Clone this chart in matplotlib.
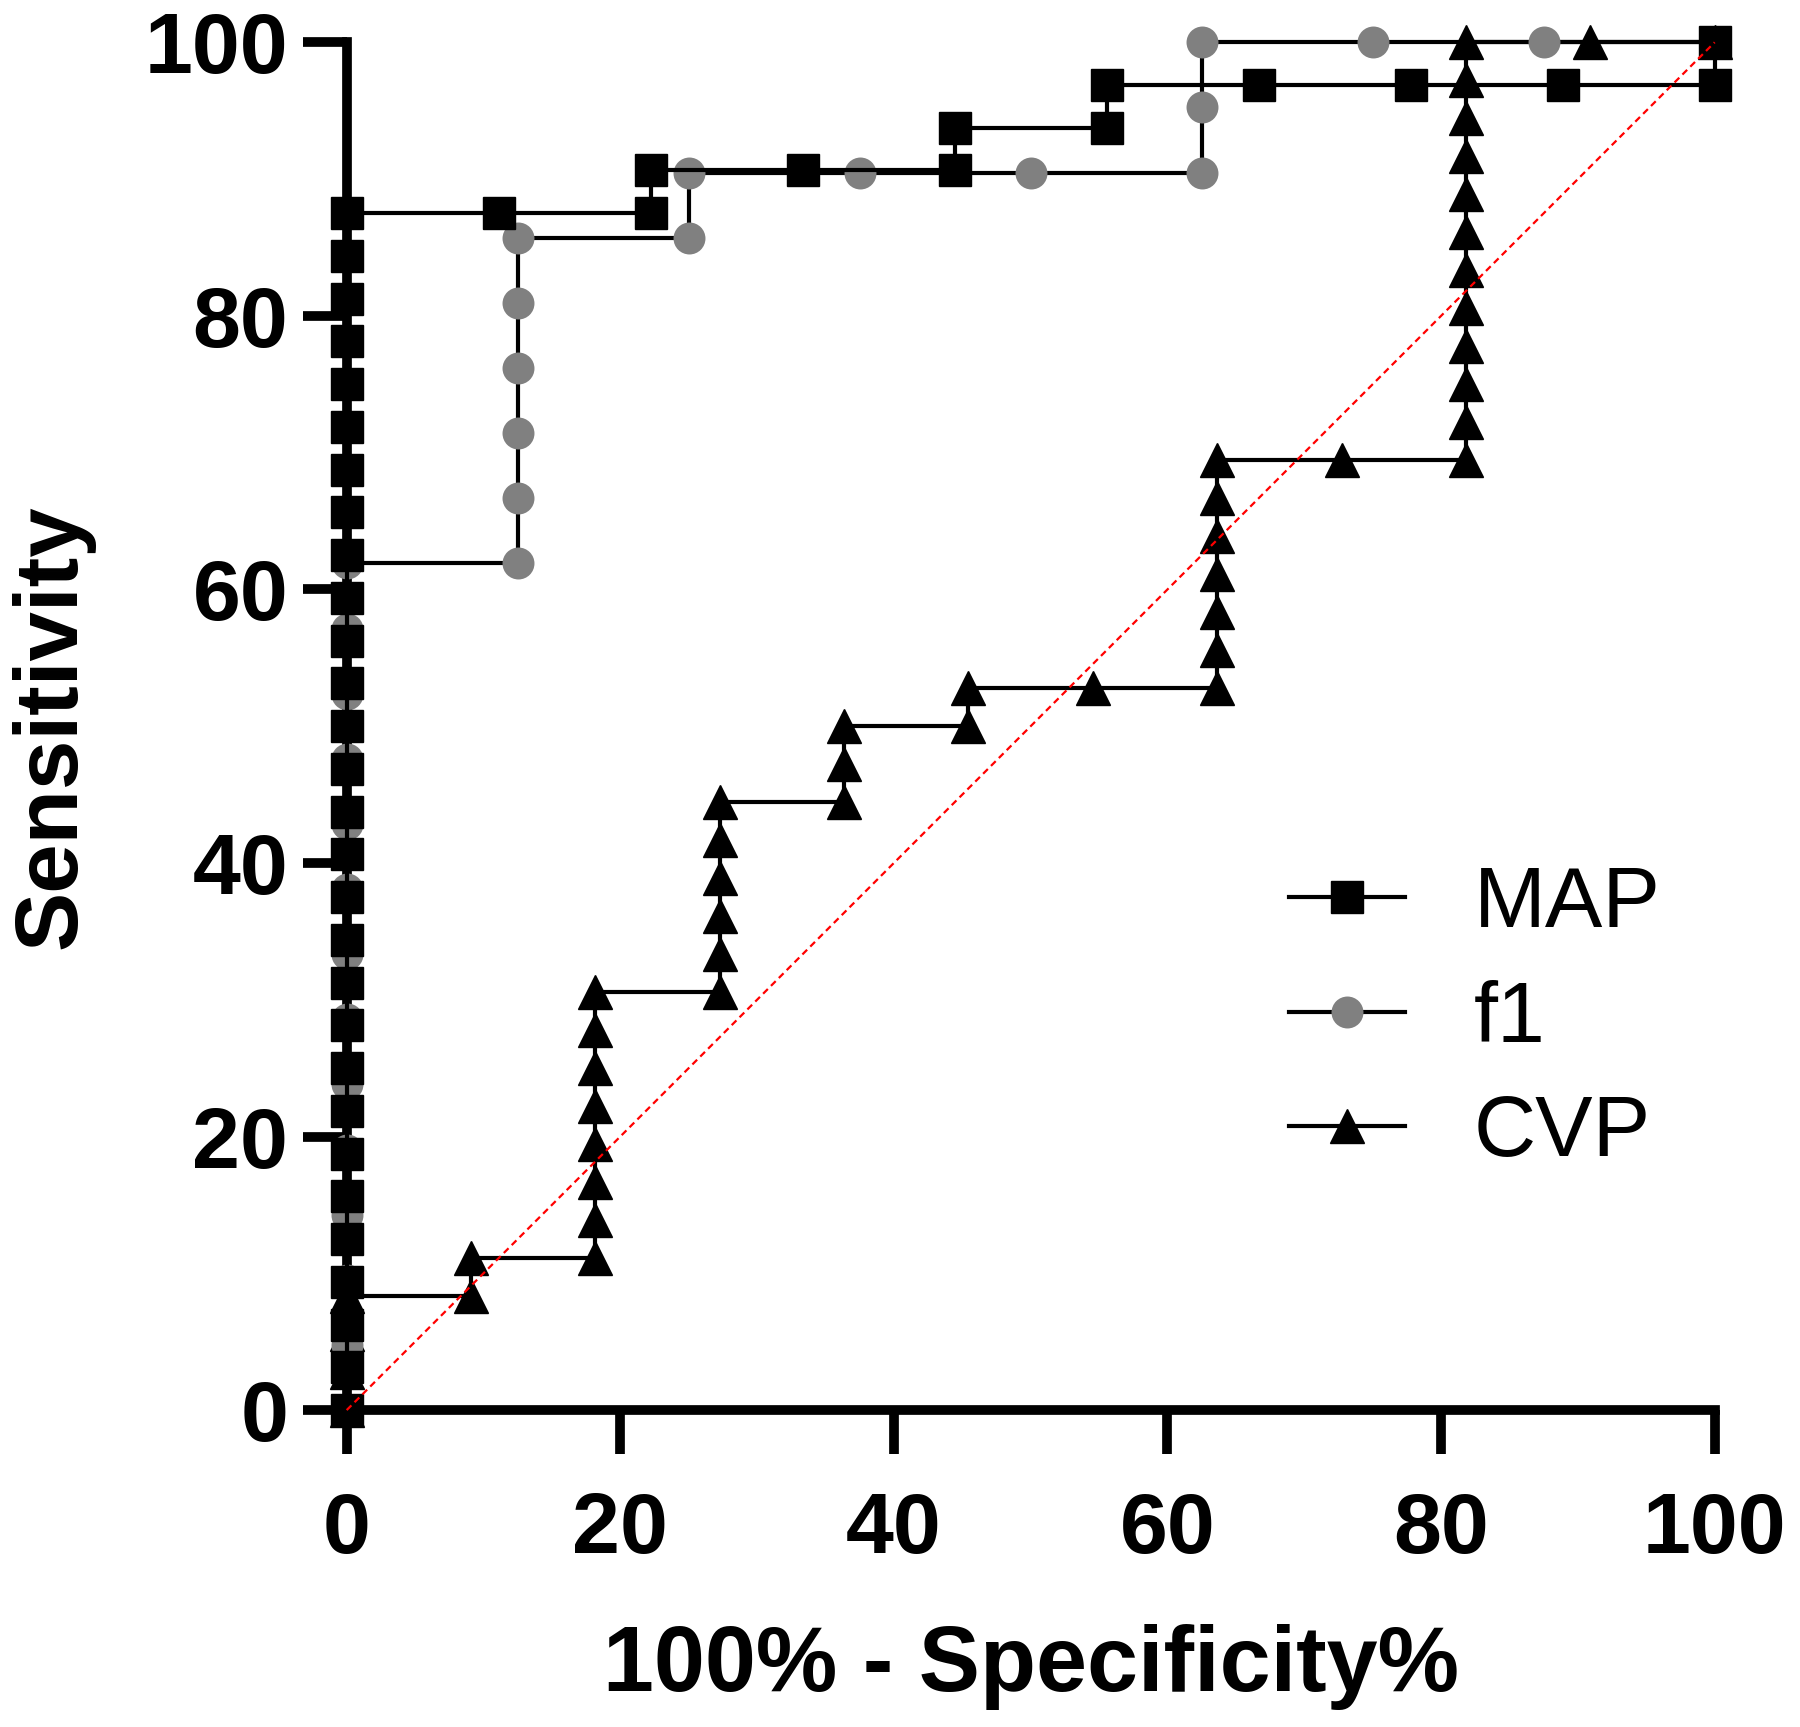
import matplotlib
matplotlib.use("Agg")
import matplotlib.pyplot as plt

# ---------------- data ----------------
map_x = [0, 0, 0, 0, 0, 0, 0, 0, 0, 0, 0, 0, 0, 0, 0, 0, 0, 0, 0, 0, 0, 0, 0, 0, 0, 0, 0, 0, 0,
         11.11, 22.22, 22.22, 33.33, 44.44, 44.44, 55.56, 55.56, 66.67, 77.78, 88.89, 100, 100]
map_y = [0, 3.13, 6.25, 9.38, 12.5, 15.63, 18.75, 21.88, 25, 28.13, 31.25, 34.38, 37.5, 40.63,
         43.75, 46.88, 50, 53.13, 56.25, 59.38, 62.5, 65.63, 68.75, 71.88, 75, 78.13, 81.25, 84.38, 87.5,
         87.5, 87.5, 90.63, 90.63, 90.63, 93.75, 93.75, 96.88, 96.88, 96.88, 96.88, 96.88, 100]

f1_x = [0, 0, 0, 0, 0, 0, 0, 0, 0, 0, 0, 0, 0, 0,
        12.5, 12.5, 12.5, 12.5, 12.5, 12.5, 25, 25, 37.5, 50, 62.5, 62.5, 62.5, 75, 87.5, 100]
f1_y = [0, 4.76, 9.52, 14.29, 19.05, 23.81, 28.57, 33.33, 38.10, 42.86, 47.62, 52.38, 57.14, 61.90,
        61.90, 66.67, 71.43, 76.19, 80.95, 85.71, 85.71, 90.48, 90.48, 90.48, 90.48, 95.24, 100, 100, 100, 100]

cvp_x = [0, 0, 0, 0, 9.09, 9.09,
         18.18, 18.18, 18.18, 18.18, 18.18, 18.18, 18.18, 18.18,
         27.27, 27.27, 27.27, 27.27, 27.27, 27.27,
         36.36, 36.36, 36.36, 45.45, 45.45, 54.55,
         63.64, 63.64, 63.64, 63.64, 63.64, 63.64, 63.64, 72.73,
         81.82, 81.82, 81.82, 81.82, 81.82, 81.82, 81.82, 81.82, 81.82, 81.82, 81.82, 81.82,
         90.91, 100]
cvp_y = [0, 2.78, 5.56, 8.33, 8.33, 11.11,
         11.11, 13.89, 16.67, 19.44, 22.22, 25.00, 27.78, 30.56,
         30.56, 33.33, 36.11, 38.89, 41.67, 44.44,
         44.44, 47.22, 50.00, 50.00, 52.78, 52.78,
         52.78, 55.56, 58.33, 61.11, 63.89, 66.67, 69.44, 69.44,
         69.44, 72.22, 75.00, 77.78, 80.56, 83.33, 86.11, 88.89, 91.67, 94.44, 97.22, 100,
         100, 100]

ref_x = [0, 100]
ref_y = [0, 100]

x_ticks = [0, 20, 40, 60, 80, 100]
y_ticks = [0, 20, 40, 60, 80, 100]
series_names = ["MAP", "f1", "CVP"]

# ---------------- figure ----------------
plt.rcParams['font.family'] = ['Liberation Sans', 'DejaVu Sans']

fig = plt.figure(figsize=(18, 17.27), dpi=100)
ax = fig.add_axes([0.1926, 0.1835, 0.760, 0.792])

lw = 3.0
ax.plot(cvp_x, cvp_y, color='black', lw=lw, marker='^', ms=24, mec='black', mfc='black',
        clip_on=False, zorder=3, label=series_names[2])
ax.plot(f1_x, f1_y, color='black', lw=lw, marker='o', ms=23, mec='none', mfc='#808080',
        clip_on=False, zorder=4, label=series_names[1])
ax.plot(map_x, map_y, color='black', lw=lw, marker='s', ms=23, mec='black', mfc='black',
        clip_on=False, zorder=5, label=series_names[0])
ax.plot(ref_x, ref_y, color='red', lw=1.6, linestyle=(0, (3, 2)), clip_on=False, zorder=6)

ax.set_xlim(0, 100)
ax.set_ylim(0, 100)
ax.set_xticks(x_ticks)
ax.set_yticks(y_ticks)
for s in ['top', 'right']:
    ax.spines[s].set_visible(False)
for s in ['left', 'bottom']:
    ax.spines[s].set_linewidth(7)
    ax.spines[s].set_capstyle('projecting')
ax.tick_params(axis='both', direction='out', length=32, width=7, labelsize=62)
ax.tick_params(axis='x', pad=26)
ax.tick_params(axis='y', pad=10)
for lab in ax.get_xticklabels() + ax.get_yticklabels():
    lab.set_fontweight('bold')

ax.set_xlabel("100% - Specificity%", fontsize=66, fontweight='bold', va='center')
ax.set_ylabel("Sensitivity", fontsize=64, fontweight='bold', va='center')
ax.xaxis.set_label_coords(0.5, -0.188)
ax.yaxis.set_label_coords(-0.2154, 0.5)

handles, labels = ax.get_legend_handles_labels()
order = [2, 1, 0]
leg = ax.legend([handles[i] for i in order], [labels[i] for i in order],
                loc='center left', bbox_to_anchor=(0.716, 0.4095),
                bbox_transform=fig.transFigure, frameon=False, fontsize=62,
                handlelength=1.35, handletextpad=0.8, labelspacing=0.40,
                borderpad=0, borderaxespad=0, markerscale=1.0)

fig.savefig("out.png", dpi=100)
